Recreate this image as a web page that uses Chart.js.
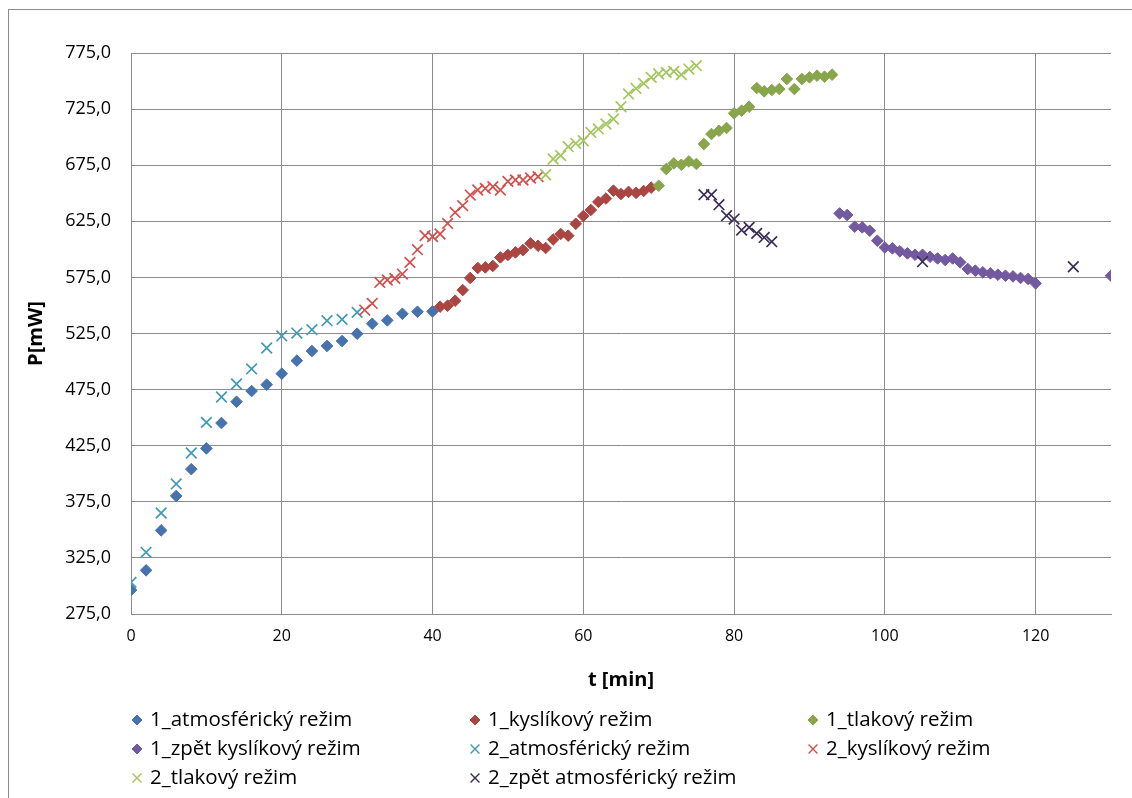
<!DOCTYPE html>
<html>
<head>
<meta charset="utf-8">
<script src="https://cdn.jsdelivr.net/npm/chart.js@4.4.1/dist/chart.umd.min.js"></script>
<style>
  html, body { margin: 0; padding: 0; background: #fff; }
  #wrap { position: relative; width: 1132px; height: 798px; overflow: hidden; }
  #frame { position: absolute; left: 8px; top: 9px; width: 1300px; height: 1000px;
           border: 1px solid #8c8c8c; box-sizing: border-box; pointer-events: none; }
  canvas { position: absolute; left: 0; top: 0; }
</style>
</head>
<body>
<div id="wrap">
  <canvas id="c" width="1132" height="798"></canvas>
  <div id="frame"></div>
</div>
<script>
// Measured output power P [mW] over time t [min], two runs, four regimes each.
const atm1T = [0, 2, 4, 6, 8, 10, 12, 14, 16, 18, 20, 22, 24, 26, 28, 30, 32, 34, 36, 38, 40];
const atm1P = [296.4, 313.9, 349.5, 380.2, 404.1, 422.6, 445.2, 464.2, 473.7, 479.4, 489.2, 500.8, 509.4, 513.9, 518.3, 524.8, 533.7, 536.7, 542.6, 544.4, 544.7];

const kys1T = [41, 42, 43, 44, 45, 46, 47, 48, 49, 50, 51, 52, 53, 54, 55, 56, 57, 58, 59, 60, 61, 62, 63, 64, 65, 66, 67, 68, 69];
const kys1P = [548.9, 549.8, 554.2, 563.7, 574.5, 583.4, 583.9, 585.2, 592.8, 595.0, 597.3, 599.4, 605.3, 603.2, 601.2, 608.8, 613.7, 612.2, 622.8, 629.7, 635.1, 642.3, 645.3, 652.3, 649.3, 651.2, 650.3, 652.0, 655.0];

const tlak1T = [70, 71, 72, 73, 74, 75, 76, 77, 78, 79, 80, 81, 82, 83, 84, 85, 86, 87, 88, 89, 90, 91, 92, 93];
const tlak1P = [656.7, 671.6, 676.6, 675.4, 678.4, 676.1, 693.9, 702.8, 705.7, 708.2, 721.2, 723.6, 727.1, 743.8, 740.8, 742.0, 742.9, 751.8, 742.9, 751.8, 753.3, 754.8, 753.9, 755.7];

const zpet1T = [94, 95, 96, 97, 98, 99, 100, 101, 102, 103, 104, 105, 106, 107, 108, 109, 110, 111, 112, 113, 114, 115, 116, 117, 118, 119, 120, 130];
const zpet1P = [632.0, 630.6, 620.2, 619.6, 616.6, 607.7, 601.7, 600.9, 598.2, 596.4, 595.2, 595.2, 593.4, 591.9, 590.5, 591.9, 588.4, 582.5, 581.0, 579.5, 578.6, 577.4, 576.5, 575.9, 574.5, 573.6, 569.7, 576.5];

const atm2T = [0, 2, 4, 6, 8, 10, 12, 14, 16, 18, 20, 22, 24, 26, 28, 30];
const atm2P = [303.2, 330.0, 365.0, 390.9, 418.5, 445.8, 468.4, 480.0, 493.4, 512.1, 522.8, 525.4, 528.4, 536.4, 537.6, 543.8];

const kys2T = [31, 32, 33, 34, 35, 36, 37, 38, 39, 40, 41, 42, 43, 44, 45, 46, 47, 48, 49, 50, 51, 52, 53, 54];
const kys2P = [545.9, 551.8, 570.5, 572.7, 574.1, 578.0, 588.4, 599.7, 612.2, 611.3, 613.7, 623.1, 632.9, 638.9, 648.4, 652.9, 654.3, 655.8, 652.9, 660.6, 661.8, 661.8, 663.6, 664.8];

const tlak2T = [55, 56, 57, 58, 59, 60, 61, 62, 63, 64, 65, 66, 67, 68, 69, 70, 71, 72, 73, 74, 75];
const tlak2P = [666.5, 680.5, 683.5, 691.5, 694.4, 696.8, 704.2, 707.3, 711.7, 716.2, 727.1, 738.5, 743.4, 747.9, 753.3, 756.3, 757.7, 758.6, 755.7, 760.7, 763.7];

const zpet2T = [76, 77, 78, 79, 80, 81, 82, 83, 84, 85, 105, 125];
const zpet2P = [648.7, 648.7, 639.8, 630.0, 627.0, 617.2, 619.6, 614.2, 610.6, 606.8, 589.0, 584.5];

const seriesNames = [
  '1_atmosférický režim', '1_kyslíkový režim', '1_tlakový režim',
  '1_zpět kyslíkový režim', '2_atmosférický režim', '2_kyslíkový režim',
  '2_tlakový režim', '2_zpět atmosférický režim'
];
const seriesT = [atm1T, kys1T, tlak1T, zpet1T, atm2T, kys2T, tlak2T, zpet2T];
const seriesP = [atm1P, kys1P, tlak1P, zpet1P, atm2P, kys2P, tlak2P, zpet2P];

const xTickValues = [0, 20, 40, 60, 80, 100, 120];
const yTickValues = [275, 325, 375, 425, 475, 525, 575, 625, 675, 725, 775];

// Styling
const COLORS = ['#4673ad', '#ab4541', '#88a54c', '#7259a0', '#3f9ab3', '#d0504c', '#a3c65e', '#3b2d55'];
const STYLES = ['rectRot', 'rectRot', 'rectRot', 'rectRot', 'crossRot', 'crossRot', 'crossRot', 'crossRot'];
const GRID = '#8c8c8c';
const FONT = "'Open Sans', 'DejaVu Sans', sans-serif";

const datasets = seriesNames.map((name, i) => {
  const diamond = STYLES[i] === 'rectRot';
  return {
    label: name,
    data: seriesT[i].map((t, j) => ({ x: t, y: seriesP[i][j] })),
    showLine: false,
    pointStyle: STYLES[i],
    pointRadius: diamond ? 5.8 : 7.5,
    pointHoverRadius: diamond ? 5.8 : 7.5,
    pointBorderWidth: diamond ? 1 : 1.7,
    backgroundColor: COLORS[i],
    borderColor: COLORS[i],
    order: -i
  };
});

// Three-column legend under the plot
const gridLegend = {
  id: 'gridLegend',
  afterDraw(chart) {
    const ctx = chart.ctx;
    const cols = [137, 475, 813];
    const rows = [720, 749, 778];
    ctx.save();
    ctx.font = "20.5px " + FONT;
    ctx.textBaseline = 'middle';
    ctx.textAlign = 'left';
    chart.data.datasets.forEach((ds, i) => {
      const cx = cols[i % 3];
      const cy = rows[Math.floor(i / 3)];
      const diamond = ds.pointStyle === 'rectRot';
      ctx.fillStyle = ds.backgroundColor;
      ctx.strokeStyle = ds.borderColor;
      ctx.lineWidth = diamond ? 1 : 1.4;
      Chart.helpers.drawPoint(ctx, {
        pointStyle: ds.pointStyle,
        radius: diamond ? 5 : 6.3,
        rotation: 0,
        borderWidth: ctx.lineWidth
      }, cx, cy);
      ctx.fillStyle = '#000';
      ctx.fillText(ds.label, cx + 13, cy);
    });
    ctx.restore();
  }
};

new Chart(document.getElementById('c'), {
  type: 'scatter',
  data: { datasets },
  plugins: [gridLegend],
  options: {
    responsive: false,
    animation: false,
    devicePixelRatio: 1,
    layout: { padding: { left: 8, right: 21, top: 53, bottom: 104 } },
    plugins: { legend: { display: false }, tooltip: { enabled: false } },
    scales: {
      x: {
        type: 'linear',
        min: 0,
        max: 130,
        afterBuildTicks: s => { s.ticks = xTickValues.map(v => ({ value: v })); },
        afterFit: s => { s.height = 80; },
        grid: { color: GRID, lineWidth: 1, drawTicks: false },
        border: { color: GRID, width: 1 },
        ticks: {
          color: '#000',
          padding: 13,
          maxRotation: 0,
          font: { family: FONT, size: 16 },
          callback: v => String(v)
        },
        title: {
          display: true,
          text: 't [min]',
          color: '#000',
          font: { family: FONT, size: 20, weight: 'bold' },
          padding: { top: 0, bottom: 2 }
        }
      },
      y: {
        type: 'linear',
        min: 275,
        max: 775,
        afterBuildTicks: s => { s.ticks = yTickValues.map(v => ({ value: v })); },
        afterFit: s => { s.width = 123; },
        grid: { color: GRID, lineWidth: 1, drawTicks: false },
        border: { color: GRID, width: 1 },
        ticks: {
          color: '#000',
          padding: 20,
          font: { family: FONT, size: 18 },
          callback: v => v.toFixed(1).replace('.', ',')
        },
        title: {
          display: true,
          text: 'P[mW]',
          color: '#000',
          font: { family: FONT, size: 20, weight: 'bold' },
          padding: { top: 16, bottom: 0 }
        }
      }
    }
  }
});
</script>
</body>
</html>
